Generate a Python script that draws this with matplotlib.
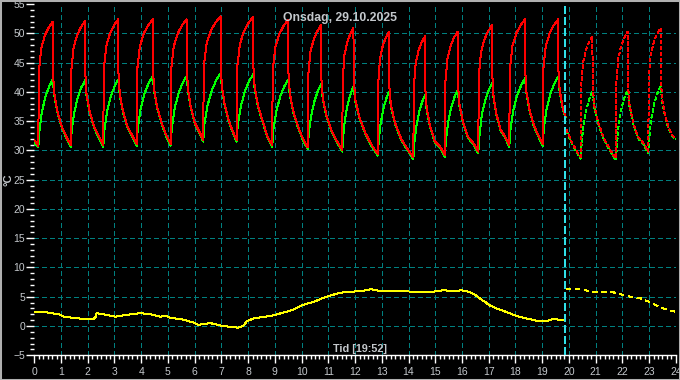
import matplotlib
matplotlib.use("Agg")
import matplotlib.pyplot as plt
from matplotlib.patches import Rectangle

# ---------------- data (hours, °C) ----------------
title = "Onsdag, 29.10.2025"
xlabel = "Tid [19:52]"
ylabel = "°C"
now_hour = 19.87

x_ticks = list(range(0, 25))
y_ticks = list(range(-5, 56, 5))

# supply temperature (red), today
red_t = [0.0, 0.08,
         0.15, 0.17, 0.26, 0.39, 0.53, 0.69, 0.70, 0.744, 0.8575, 1.025, 1.1925,
         1.36, 1.38, 1.468, 1.603, 1.738, 1.90, 1.91, 1.954, 2.07, 2.24, 2.41,
         2.58, 2.60, 2.692, 2.832, 2.972, 3.14, 3.15, 3.195, 3.3125, 3.485, 3.6575,
         3.83, 3.85, 3.95, 4.10, 4.25, 4.43, 4.44, 4.484, 4.5975, 4.765, 4.9325,
         5.10, 5.12, 5.22, 5.37, 5.52, 5.70, 5.71, 5.75, 5.855, 6.01, 6.165,
         6.32, 6.34, 6.45, 6.6125, 6.775, 6.97, 6.98, 7.018, 7.12, 7.27, 7.42,
         7.57, 7.59, 7.694, 7.849, 8.004, 8.19, 8.20, 8.247, 8.3675, 8.545, 8.7225,
         8.90, 8.92, 9.02, 9.17, 9.32, 9.50, 9.51, 9.558, 9.6825, 9.865, 10.0475,
         10.23, 10.25, 10.33, 10.455, 10.58, 10.73, 10.74, 10.793, 10.9275, 11.125, 11.3225,
         11.52, 11.54, 11.604, 11.709, 11.814, 11.94, 11.95, 12.013, 12.1675, 12.395, 12.6225,
         12.85, 12.87, 12.934, 13.039, 13.144, 13.27, 13.28, 13.343, 13.4975, 13.725, 13.9525,
         14.18, 14.20, 14.268, 14.378, 14.488, 14.62, 14.63, 14.679, 14.805, 14.99, 15.175,
         15.36, 15.38, 15.456, 15.576, 15.696, 15.84, 15.85, 15.902, 16.0325, 16.225, 16.4175,
         16.61, 16.63, 16.714, 16.844, 16.974, 17.13, 17.14, 17.181, 17.29, 17.45, 17.61,
         17.77, 17.79, 17.888, 18.0355, 18.183, 18.36, 18.37, 18.413, 18.525, 18.69, 18.855,
         19.02, 19.04, 19.136, 19.281, 19.426, 19.60, 19.61, 19.654, 19.77, 19.87]
red_v = [31.8, 31.2,
         30.8, 43.4, 47.4, 49.6, 50.9, 52.0, 43.1, 39.8, 36.8, 34.1, 32.4,
         30.9, 43.5, 47.5, 49.7, 51.0, 52.1, 43.0, 39.7, 36.7, 34.0, 32.4,
         30.9, 43.8, 47.8, 50.0, 51.3, 52.4, 43.1, 39.8, 36.8, 34.1, 32.6,
         31.1, 43.8, 47.8, 50.0, 51.3, 52.4, 43.7, 40.4, 37.4, 34.7, 32.6,
         31.1, 43.8, 47.8, 50.0, 51.3, 52.4, 43.7, 40.4, 37.4, 34.7, 33.3,
         31.8, 44.3, 48.3, 50.5, 51.8, 52.9, 44.2, 40.9, 37.9, 35.2, 33.3,
         31.8, 44.2, 48.2, 50.4, 51.7, 52.8, 44.0, 40.7, 37.7, 35.0, 32.4,
         30.9, 43.7, 47.7, 49.9, 51.2, 52.3, 43.1, 39.8, 36.8, 34.1, 32.0,
         30.5, 42.8, 46.8, 49.0, 50.3, 51.4, 42.3, 39.0, 36.0, 33.3, 31.6,
         30.1, 42.3, 46.3, 48.5, 49.8, 50.9, 41.9, 38.6, 35.6, 32.9, 30.9,
         29.4, 41.7, 45.7, 47.9, 49.2, 50.3, 41.0, 37.7, 34.7, 32.0, 30.3,
         28.8, 40.9, 44.9, 47.1, 48.4, 49.5, 40.5, 37.2, 34.2, 31.5, 30.7,
         29.2, 41.7, 45.7, 47.9, 49.2, 50.3, 41.3, 38.0, 35.0, 32.3, 31.3,
         29.8, 42.8, 46.8, 49.0, 50.3, 51.4, 42.5, 39.2, 36.2, 33.5, 32.4,
         30.9, 43.8, 47.8, 50.0, 51.3, 52.4, 43.3, 40.0, 37.0, 34.3, 32.6,
         31.1, 43.8, 47.8, 50.0, 51.3, 52.4, 43.6, 40.3, 37.3, 35.8]

# return temperature (green), today
grn_t = [0.0, 0.08,
         0.15, 0.19, 0.285, 0.42, 0.555, 0.69, 0.744, 0.8575, 1.025, 1.1925,
         1.36, 1.40, 1.495, 1.63, 1.765, 1.90, 1.954, 2.07, 2.24, 2.41,
         2.58, 2.62, 2.72, 2.86, 3.00, 3.14, 3.195, 3.3125, 3.485, 3.6575,
         3.83, 3.87, 3.98, 4.13, 4.28, 4.43, 4.484, 4.5975, 4.765, 4.9325,
         5.10, 5.14, 5.25, 5.40, 5.55, 5.70, 5.75, 5.855, 6.01, 6.165,
         6.32, 6.36, 6.4825, 6.645, 6.8075, 6.97, 7.018, 7.12, 7.27, 7.42,
         7.57, 7.61, 7.725, 7.88, 8.035, 8.19, 8.247, 8.3675, 8.545, 8.7225,
         8.90, 8.94, 9.05, 9.20, 9.35, 9.50, 9.558, 9.6825, 9.865, 10.0475,
         10.23, 10.27, 10.355, 10.48, 10.605, 10.73, 10.793, 10.9275, 11.125, 11.3225,
         11.52, 11.56, 11.625, 11.73, 11.835, 11.94, 12.013, 12.1675, 12.395, 12.6225,
         12.85, 12.89, 12.955, 13.06, 13.165, 13.27, 13.343, 13.4975, 13.725, 13.9525,
         14.18, 14.22, 14.29, 14.40, 14.51, 14.62, 14.679, 14.805, 14.99, 15.175,
         15.36, 15.40, 15.48, 15.60, 15.72, 15.84, 15.902, 16.0325, 16.225, 16.4175,
         16.61, 16.65, 16.74, 16.87, 17.00, 17.13, 17.181, 17.29, 17.45, 17.61,
         17.77, 17.81, 17.9175, 18.065, 18.2125, 18.36, 18.413, 18.525, 18.69, 18.855,
         19.02, 19.06, 19.165, 19.31, 19.455, 19.60, 19.654, 19.77, 19.87]
grn_v = [31.3, 30.8,
         30.5, 33.3, 36.6, 39.2, 40.9, 42.1, 39.5, 36.6, 33.9, 32.2,
         30.6, 33.4, 36.5, 39.1, 40.8, 42.0, 39.4, 36.5, 33.8, 32.2,
         30.6, 33.4, 36.6, 39.2, 40.9, 42.1, 39.5, 36.6, 33.9, 32.4,
         30.8, 33.6, 37.2, 39.8, 41.5, 42.7, 40.1, 37.2, 34.5, 32.4,
         30.8, 33.6, 37.2, 39.8, 41.5, 42.7, 40.1, 37.2, 34.5, 33.1,
         31.5, 34.3, 37.7, 40.3, 42.0, 43.2, 40.6, 37.7, 35.0, 33.1,
         31.5, 34.3, 37.5, 40.1, 41.8, 43.0, 40.4, 37.5, 34.8, 32.2,
         30.6, 33.4, 36.6, 39.2, 40.9, 42.1, 39.5, 36.6, 33.9, 31.8,
         30.2, 33.0, 35.8, 38.4, 40.1, 41.3, 38.7, 35.8, 33.1, 31.4,
         29.8, 32.6, 35.4, 38.0, 39.7, 40.9, 38.3, 35.4, 32.7, 30.7,
         29.1, 31.9, 34.5, 37.1, 38.8, 40.0, 37.4, 34.5, 31.8, 30.1,
         28.5, 31.3, 34.0, 36.6, 38.3, 39.5, 36.9, 34.0, 31.3, 30.5,
         28.9, 31.7, 34.8, 37.4, 39.1, 40.3, 37.7, 34.8, 32.1, 31.1,
         29.5, 32.3, 36.0, 38.6, 40.3, 41.5, 38.9, 36.0, 33.3, 32.2,
         30.6, 33.4, 36.8, 39.4, 41.1, 42.3, 39.7, 36.8, 34.1, 32.4,
         30.8, 33.6, 37.1, 39.7, 41.4, 42.6, 40.0, 37.1, 35.6]

# previous-day values shown after the current time (dashed)
red_prev_t = [19.90, 20.10, 20.30,
              20.44, 20.46, 20.528, 20.638, 20.748, 20.88, 20.89, 20.95, 21.10, 21.32, 21.54,
              21.76, 21.78, 21.848, 21.958, 22.068, 22.20, 22.21, 22.262, 22.3925, 22.585, 22.7775,
              22.97, 22.99, 23.062, 23.177, 23.292, 23.43, 23.44, 23.49, 23.58, 23.72, 23.88, 24.0]
red_prev_v = [33.6, 31.5, 29.8,
              28.9, 40.9, 44.9, 47.1, 48.4, 49.5, 41.0, 37.7, 34.7, 32.0, 30.1,
              28.6, 41.7, 45.7, 47.9, 49.2, 50.3, 41.3, 38.0, 35.0, 32.3, 31.3,
              29.8, 42.3, 46.3, 48.5, 49.8, 50.9, 42.0, 38.7, 36.4, 34.0, 32.5, 32.1]
grn_prev_t = [19.90, 20.10, 20.30,
              20.44, 20.48, 20.55, 20.66, 20.77, 20.88, 20.95, 21.10, 21.32, 21.54,
              21.76, 21.80, 21.87, 21.98, 22.09, 22.20, 22.262, 22.3925, 22.585, 22.7775,
              22.97, 23.01, 23.085, 23.20, 23.315, 23.43, 23.49, 23.58, 23.72, 23.88, 24.0]
grn_prev_v = [33.4, 31.3, 29.6,
              28.6, 31.4, 34.5, 37.1, 38.8, 40.0, 37.4, 34.5, 31.8, 29.9,
              28.3, 31.1, 34.8, 37.4, 39.1, 40.3, 37.7, 34.8, 32.1, 31.1,
              29.5, 32.3, 35.5, 38.1, 39.8, 41.0, 38.4, 36.2, 33.8, 32.3, 31.9]

# outdoor temperature (yellow)
out_t = [0.0, 0.37, 0.62, 0.93, 1.1, 1.46, 1.83, 2.21, 2.30, 2.33, 2.7, 3.02, 3.46,
         3.96, 4.34, 4.7, 4.95, 5.08, 5.58, 5.95, 6.14, 6.58, 7.07, 7.5, 7.6, 7.82,
         7.95, 8.2, 8.5, 8.8, 9.0, 9.44, 9.7, 9.94, 10.2, 10.44, 10.8, 11.0, 11.3,
         11.6, 12.0, 12.3, 12.6, 12.9, 13.2, 13.6, 14.0, 14.5, 15.0, 15.3, 15.7, 16.0,
         16.3, 16.5, 16.7, 16.9, 17.0, 17.3, 17.6, 18.0, 18.3, 18.6, 18.8, 19.0, 19.2,
         19.4, 19.6, 19.87]
out_v = [2.45, 2.45, 2.2, 2.0, 1.6, 1.4, 1.2, 1.2, 1.6, 2.2, 1.9, 1.6, 1.9,
         2.2, 2.0, 1.6, 1.7, 1.4, 1.1, 0.6, 0.2, 0.5, 0.0, -0.2, -0.3, 0.0,
         0.8, 1.3, 1.5, 1.7, 1.9, 2.45, 2.8, 3.4, 3.8, 4.1, 4.8, 5.1, 5.5,
         5.8, 5.9, 6.0, 6.3, 6.0, 6.0, 6.0, 5.9, 5.8, 5.9, 6.1, 6.0, 6.1,
         5.8, 5.3, 4.6, 4.0, 3.6, 3.0, 2.5, 1.8, 1.4, 1.1, 0.9, 0.85, 0.9,
         1.2, 1.1, 1.1]
out_prev_t = [19.90, 20.37, 20.87, 21.1, 21.55, 21.95, 22.4, 22.7, 22.96, 23.27, 23.6, 23.9, 24.0]
out_prev_v = [6.4, 6.3, 5.9, 5.7, 5.9, 5.4, 4.9, 4.7, 4.2, 3.5, 2.9, 2.5, 2.45]

# ---------------- styling ----------------
BG = "#000000"
GRID = "#008080"
TXT = "#c4c8cc"
RED = "#ff0000"
GREEN = "#00ff00"
YELLOW = "#ffff00"
CYAN = "#30e0e8"
FONT = ["Liberation Sans", "DejaVu Sans"]

fig = plt.figure(figsize=(6.8, 3.8), dpi=100, facecolor=BG)
ax = fig.add_axes([34.3 / 680, 1 - 355.3 / 380, (675.8 - 34.3) / 680, (355.3 - 4.0) / 380])
ax.set_facecolor(BG)
ax.set_xlim(0, 24)
ax.set_ylim(-5, 55)

# grid
gv = ax.vlines(x_ticks[1:-1], -5, 55, colors=GRID, linewidth=0.8, linestyles=[(0, (4, 3))], zorder=1)
gh = ax.hlines([v for v in y_ticks if -5 < v < 55], 0, 24, colors=GRID, linewidth=0.8,
               linestyles=[(0, (4, 3))], zorder=1)
gv.set_antialiased(False)
gh.set_antialiased(False)

# series
common = dict(lw=0.72, antialiased=False)
ax.plot(grn_t, grn_v, color=GREEN, zorder=3, **common)
ax.plot(red_t, red_v, color=RED, zorder=4, **common)
ax.plot(grn_prev_t, grn_prev_v, color=GREEN, ls=(0, (4, 2.4)), zorder=3, **common)
ax.plot(red_prev_t, red_prev_v, color=RED, ls=(0, (4, 2.4)), zorder=4, **common)
ax.plot(out_t, out_v, color=YELLOW, zorder=3, **common)
ax.plot(out_prev_t, out_prev_v, color=YELLOW, ls=(0, (5, 5)), zorder=3, **common)

# current-time marker
ax.axvline(now_hour, color=CYAN, lw=1.2, ls=(0, (4.5, 2)), zorder=5, antialiased=False)

# spines & ticks
for s in ("top", "right", "left"):
    ax.spines[s].set_visible(False)
ax.spines["bottom"].set_color("white")
ax.spines["bottom"].set_linewidth(1.0)

ax.set_xticks(x_ticks)
ax.set_xticks([i / 6 for i in range(0, 24 * 6 + 1)], minor=True)
ax.set_yticks(y_ticks)
ax.set_yticks(list(range(-5, 56)), minor=True)
ax.tick_params(axis="both", which="major", colors="white", labelcolor=TXT, labelsize=7.5,
               direction="out", length=5.8, width=1.0)
ax.tick_params(axis="both", which="minor", colors="white", direction="out", length=2.8, width=1.0)
ax.tick_params(axis="x", which="major", pad=2.5)
ax.tick_params(axis="y", which="major", pad=0.8)
for lab in ax.get_xticklabels() + ax.get_yticklabels():
    lab.set_family(FONT)

# texts
fig.text(340 / 680, 1 - 18 / 380, title, color=TXT, fontsize=8.8, fontweight="bold",
         family=FONT, ha="center", va="center")
fig.text(360 / 680, 1 - 348.5 / 380, xlabel, color=TXT, fontsize=7.8, fontweight="bold",
         family=FONT, ha="center", va="center")
fig.text(8.5 / 680, 1 - 180 / 380, ylabel, color=TXT, fontsize=8, fontweight="bold",
         family=FONT, ha="center", va="center", rotation=90)

# outer frame
fig.patches.append(Rectangle((0, 0), 1, 1, transform=fig.transFigure, fill=False,
                             edgecolor="#b0b0b0", lw=2.2, zorder=10))

fig.savefig("out.png", dpi=100, facecolor=BG)
